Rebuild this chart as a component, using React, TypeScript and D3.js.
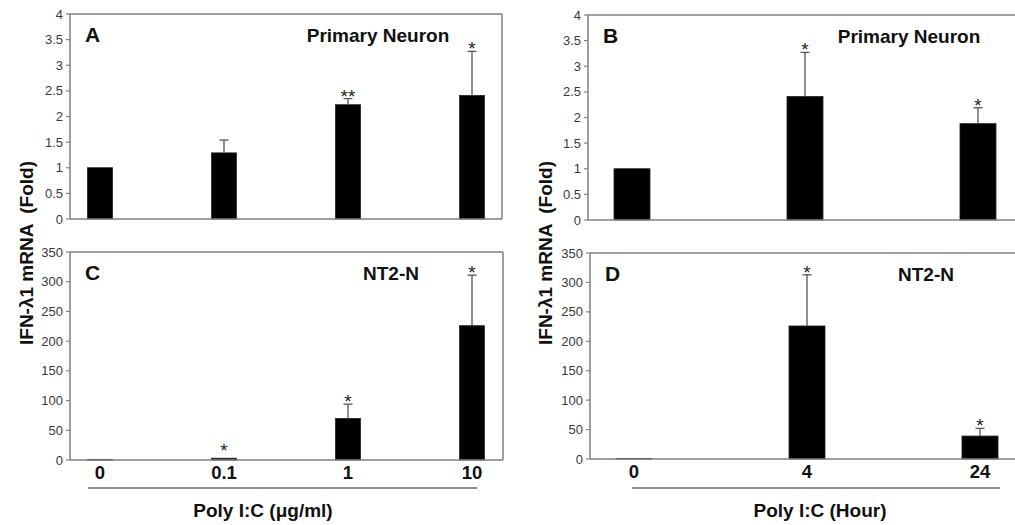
import React from "react";
import * as d3 from "d3";

// ---- data ----
const doseCategories = ["0", "0.1", "1", "10"];
const timeCategories = ["0", "4", "24"];

const neuronDoseValues = [1.0, 1.29, 2.23, 2.41];
const neuronDoseErrors = [0, 0.25, 0.12, 0.86];
const neuronDoseSig = ["", "", "**", "*"];

const neuronTimeValues = [1.0, 2.41, 1.88];
const neuronTimeErrors = [0, 0.86, 0.31];
const neuronTimeSig = ["", "*", "*"];

const nt2DoseValues = [1, 3, 70, 226];
const nt2DoseErrors = [0, 0, 24, 85];
const nt2DoseSig = ["", "*", "*", "*"];

const nt2TimeValues = [1, 226, 39];
const nt2TimeErrors = [0, 87, 13];
const nt2TimeSig = ["", "*", "*"];

const foldTicks = [0, 0.5, 1, 1.5, 2, 2.5, 3, 3.5, 4];
const nt2Ticks = [0, 50, 100, 150, 200, 250, 300, 350];

const yTitle = "IFN-λ1 mRNA  (Fold)";
const doseTitle = "Poly I:C (μg/ml)";
const timeTitle = "Poly I:C (Hour)";

const FONT = "'Liberation Sans', Arial, Helvetica, sans-serif";
const AXIS = "#808080";
const TXT = "#3a3a3a";

type PanelProps = {
  left: number; right: number; top: number; bottom: number;
  xStart: number; xEnd: number; barW: number;
  cats: string[]; values: number[]; errors: number[]; sig: string[];
  ticks: number[]; yMax: number; letter: string; title: string;
  titleX: number; showX: boolean; closeRight: boolean;
};

function Panel(p: PanelProps) {
  const x = d3.scalePoint<string>().domain(p.cats).range([p.xStart, p.xEnd]);
  const y = d3.scaleLinear().domain([0, p.yMax]).range([p.bottom, p.top]);
  return (
    <g>
      {/* frame */}
      <line x1={p.left} x2={p.right} y1={p.top} y2={p.top} stroke={AXIS} strokeWidth={1.5} />
      {p.closeRight && (
        <line x1={p.right} x2={p.right} y1={p.top} y2={p.bottom} stroke={AXIS} strokeWidth={1.5} />
      )}
      {/* bars */}
      {p.cats.map((c, i) => {
        const cx = x(c)!;
        const v = p.values[i];
        const e = p.errors[i];
        const top = y(v);
        const errTop = y(v + e);
        return (
          <g key={c}>
            <rect x={cx - p.barW / 2} y={top} width={p.barW} height={p.bottom - top}
              fill="#000" stroke="#222" strokeWidth={0.8} />
            {e > 0 && (
              <g stroke="#555" strokeWidth={1.3}>
                <line x1={cx} x2={cx} y1={top} y2={errTop} />
                <line x1={cx - 4.5} x2={cx + 4.5} y1={errTop} y2={errTop} />
              </g>
            )}
            {p.sig[i] && (
              <text x={cx} y={errTop + (e > 0 ? 4 : -1)} textAnchor="middle" fontFamily={FONT}
                fontSize={19} fill="#222">{p.sig[i]}</text>
            )}
          </g>
        );
      })}
      {/* axes */}
      <line x1={p.left} x2={p.left} y1={p.top} y2={p.bottom} stroke={AXIS} strokeWidth={1.5} />
      <line x1={p.left} x2={p.right} y1={p.bottom} y2={p.bottom} stroke={AXIS} strokeWidth={1.5} />
      {p.ticks.map((t) => (
        <g key={t}>
          <line x1={p.left - 4} x2={p.left} y1={y(t)} y2={y(t)} stroke={AXIS} strokeWidth={1.2} />
          <text x={p.left - 7} y={y(t)} dy="0.35em" textAnchor="end" fontFamily={FONT}
            fontSize={13} fill={TXT}>{String(t)}</text>
        </g>
      ))}
      <text x={p.left + 15} y={p.top + 28} fontFamily={FONT} fontWeight="bold" fontSize={21}
        fill="#111">{p.letter}</text>
      <text x={p.titleX} y={p.top + 28} textAnchor="middle" fontFamily={FONT} fontWeight="bold"
        fontSize={19} fill="#111">{p.title}</text>
      {p.showX && p.cats.map((c) => (
        <text key={c} x={x(c)!} y={p.bottom + 19} textAnchor="middle" fontFamily={FONT}
          fontWeight="bold" fontSize={18.5} fill="#111">{c}</text>
      ))}
    </g>
  );
}

export default function App() {
  return (
    <svg width={1015} height={525} style={{ position: "absolute", left: 0, top: 0, background: "#fff" }}>
      <Panel left={70} right={502} top={14} bottom={219} xStart={100} xEnd={472} barW={25}
        cats={doseCategories} values={neuronDoseValues} errors={neuronDoseErrors} sig={neuronDoseSig}
        ticks={foldTicks} yMax={4} letter="A" title="Primary Neuron" titleX={378} showX={false} closeRight={true} />
      <Panel left={588} right={1030} top={15} bottom={220} xStart={632} xEnd={978} barW={36}
        cats={timeCategories} values={neuronTimeValues} errors={neuronTimeErrors} sig={neuronTimeSig}
        ticks={foldTicks} yMax={4} letter="B" title="Primary Neuron" titleX={909} showX={false} closeRight={false} />
      <Panel left={70} right={503} top={252} bottom={460} xStart={100} xEnd={472} barW={25}
        cats={doseCategories} values={nt2DoseValues} errors={nt2DoseErrors} sig={nt2DoseSig}
        ticks={nt2Ticks} yMax={350} letter="C" title="NT2-N" titleX={391} showX={true} closeRight={true} />
      <Panel left={590} right={1030} top={253} bottom={459} xStart={634} xEnd={980} barW={36}
        cats={timeCategories} values={nt2TimeValues} errors={nt2TimeErrors} sig={nt2TimeSig}
        ticks={nt2Ticks} yMax={350} letter="D" title="NT2-N" titleX={926} showX={true} closeRight={false} />

      {/* y titles */}
      <text transform="translate(33,253) rotate(-90)" textAnchor="middle" fontFamily={FONT}
        fontWeight="bold" fontSize={19} fill="#111" style={{ whiteSpace: "pre" }}>{yTitle}</text>
      <text transform="translate(552,253) rotate(-90)" textAnchor="middle" fontFamily={FONT}
        fontWeight="bold" fontSize={19} fill="#111" style={{ whiteSpace: "pre" }}>{yTitle}</text>

      {/* x group lines and titles */}
      <line x1={88} x2={477} y1={488} y2={488} stroke="#222" strokeWidth={1.2} />
      <line x1={632} x2={1000} y1={488} y2={488} stroke="#222" strokeWidth={1.2} />
      <text x={263} y={517} textAnchor="middle" fontFamily={FONT} fontWeight="bold" fontSize={19}
        fill="#111">{doseTitle}</text>
      <text x={820} y={517} textAnchor="middle" fontFamily={FONT} fontWeight="bold" fontSize={19}
        fill="#111">{timeTitle}</text>
    </svg>
  );
}
